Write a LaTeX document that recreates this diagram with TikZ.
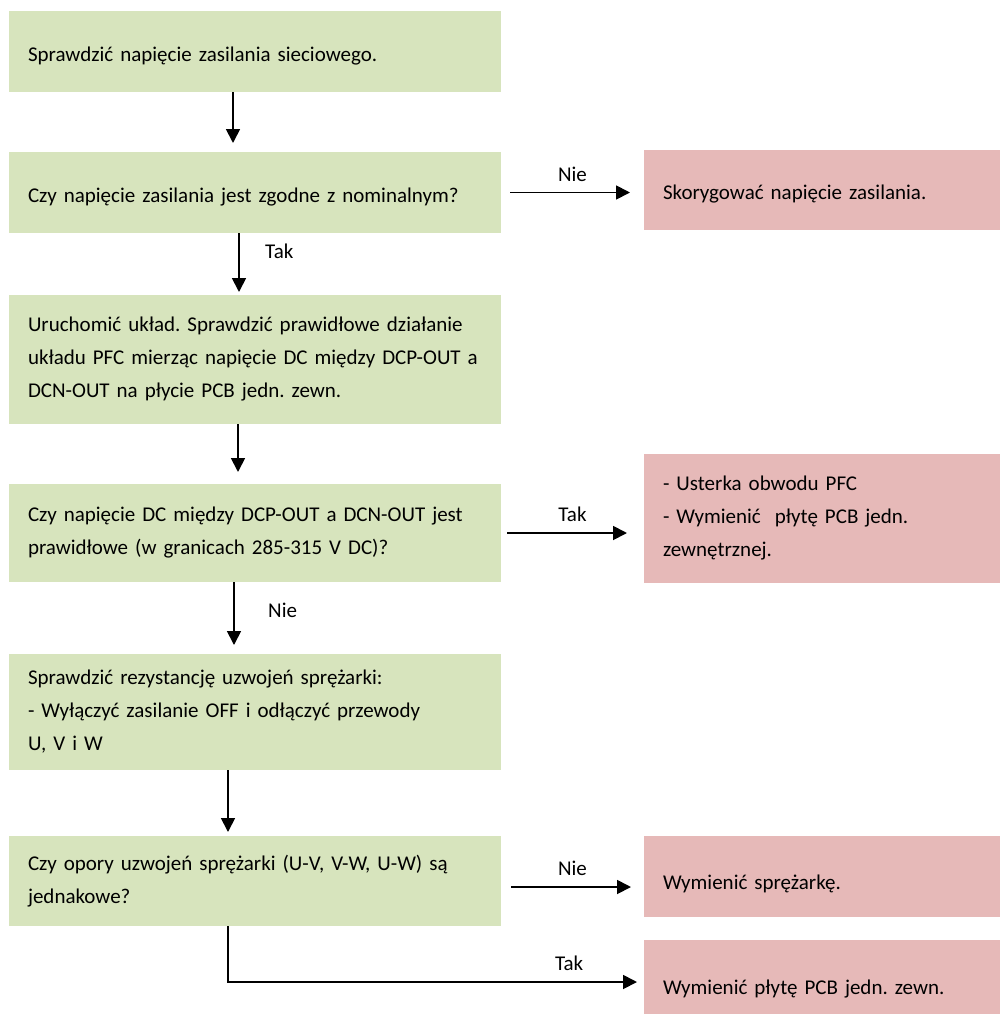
\documentclass[tikz,border=0pt]{standalone}
\usepackage{fontspec}
\setmainfont{Carlito}
\frenchspacing
\usepackage{tikz}
\usetikzlibrary{arrows.meta, positioning}
\definecolor{stepfill}{HTML}{D7E4BD}
\definecolor{fixfill}{HTML}{E6B9B8}
\newcommand{\boxfont}{\fontsize{21pt}{33pt}\selectfont\spaceskip 3.6pt plus 1pt minus 1pt\relax}

\begin{document}
\begin{tikzpicture}[
    x=1pt, y=-1pt,
    font=\boxfont,
    stepnode/.style={
        rectangle,
        fill=stepfill,
        inner xsep=19pt,
        outer sep=0pt,
        text width=454pt,
        align=left
    },
    fixnode/.style={
        rectangle,
        fill=fixfill,
        inner xsep=19pt,
        outer sep=0pt,
        text width=318pt,
        align=left
    },
    oneline/.style={
        text height=#1,
        text depth=5pt
    },
    oneline/.default=24pt,
    flowlink/.style={
        -{Triangle[length=14pt, width=14pt]},
        line width=1.8pt
    },
    answer/.style={above=7pt}
]
    \useasboundingbox (0,0) rectangle (1000,1015);

    \node[stepnode, oneline, minimum height=81pt, anchor=north west] (siec) at (9,11)
        {Sprawdzić napięcie zasilania sieciowego.};
    \node[stepnode, oneline, minimum height=81pt, below=60pt of siec] (zgodne)
        {Czy napięcie zasilania jest zgodne z nominalnym?};
    \node[stepnode, minimum height=129pt, below=62pt of zgodne] (pfc)
        {Uruchomić układ. Sprawdzić prawidłowe działanie\\
         \mbox{układu PFC mierząc napięcie DC między DCP-OUT a}\\
         DCN-OUT na płycie PCB jedn. zewn.};
    \node[stepnode, minimum height=98pt, below=60pt of pfc] (dcok)
        {Czy napięcie DC między DCP-OUT a DCN-OUT jest\\
         prawidłowe (w granicach 285-315 V DC)?};
    \node[stepnode, minimum height=116pt, below=72pt of dcok] (rezyst)
        {Sprawdzić rezystancję uzwojeń sprężarki:\\
         - Wyłączyć zasilanie OFF i odłączyć przewody\\
         U, V i W};
    \node[stepnode, minimum height=90pt, below=66pt of rezyst] (opory)
        {Czy opory uzwojeń sprężarki (U-V, V-W, U-W) są\\
         jednakowe?};

    \node[fixnode, oneline, minimum height=80pt, right=143pt of zgodne, yshift=2.5pt] (korekta)
        {Skorygować napięcie zasilania.};
    \node[fixnode, minimum height=129pt, right=143pt of dcok, yshift=14.5pt] (usterka)
        {- Usterka obwodu PFC\\
         - Wymienić\ \ płytę PCB jedn.\\
         zewnętrznej.};
    \node[fixnode, oneline=31pt, minimum height=81pt, right=143pt of opory, yshift=4.5pt] (sprezarka)
        {Wymienić sprężarkę.};
    \node[fixnode, oneline=40pt, minimum height=74pt, below=23pt of sprezarka] (plyta)
        {Wymienić płytę PCB jedn. zewn.};

    \draw[flowlink, shorten >=9pt] ([xshift=-22pt]siec.south) -- ([xshift=-22pt]zgodne.north);
    \draw[flowlink, shorten >=3pt] ([xshift=-16pt]zgodne.south) --
        node[right=22pt, pos=0.3] {Tak} ([xshift=-16pt]pfc.north);
    \draw[flowlink, shorten >=12pt] ([xshift=-17pt]pfc.south) -- ([xshift=-17pt]dcok.north);
    \draw[flowlink, shorten >=9pt] ([xshift=-21pt]dcok.south) --
        node[right=30pt, pos=0.39] {Nie} ([xshift=-21pt]rezyst.north);
    \draw[flowlink, shorten >=4pt] ([xshift=-27pt]rezyst.south) -- ([xshift=-27pt]opory.north);

    \draw[flowlink, shorten <=9pt, shorten >=14pt] (zgodne.east) --
        node[answer] {Nie} (zgodne.east -| korekta.west);
    \draw[flowlink, shorten <=6pt, shorten >=17pt] (dcok.east) --
        node[answer] {Tak} (dcok.east -| usterka.west);
    \draw[flowlink, shorten <=10pt, shorten >=13pt] ([yshift=-6pt]opory.east) --
        node[answer] {Nie} ([yshift=-6pt]opory.east -| sprezarka.west);
    \draw[flowlink, shorten >=7pt] ([xshift=-27pt]opory.south) |-
        node[answer, pos=0.91] {Tak} ([yshift=-5pt]plyta.west);
\end{tikzpicture}
\end{document}
